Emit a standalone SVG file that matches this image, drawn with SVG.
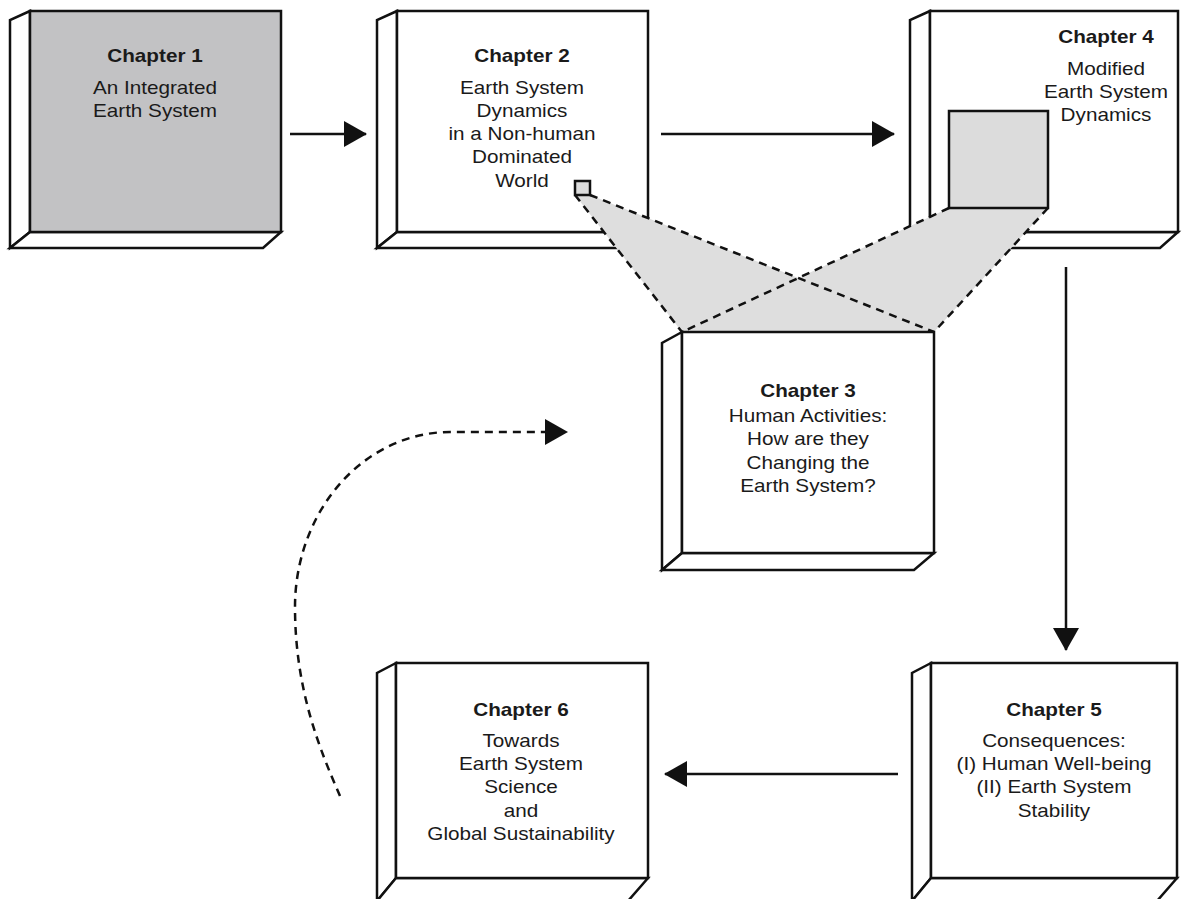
<svg xmlns="http://www.w3.org/2000/svg" width="1184" height="899" viewBox="0 0 1184 899">
  <style>
    .face{fill:#ffffff;stroke:#111;stroke-width:2.5;stroke-linejoin:miter}
    .face1{fill:#c2c2c4;stroke:#111;stroke-width:2.5}
    .t{font-family:"Liberation Sans",Arial,Helvetica,sans-serif;font-size:18px;fill:#1a1a1a;text-anchor:middle}
    .b{font-weight:bold}
    .shade{fill:#dedede;stroke:none}
    .dash{fill:none;stroke:#111;stroke-width:2.5;stroke-dasharray:8 6}
    .conn{fill:none;stroke:#111;stroke-width:2.5}
    .sq{fill:#dcdcdc;stroke:#111;stroke-width:2.5}
  </style>
  <defs>
    <marker id="ah" viewBox="0 0 23 26" refX="22" refY="13" markerWidth="23" markerHeight="26" markerUnits="userSpaceOnUse" orient="auto">
      <path d="M0,0 L23,13 L0,26 Z" fill="#111"/>
    </marker>
  </defs>
  <rect width="1184" height="899" fill="#ffffff"/>

  <g id="chapter1">
    <polygon class="face" points="30,11 10,20 10,248 30,232"/>
    <polygon class="face" points="30,232 10,248 263,248 281,232"/>
    <rect class="face1" x="30" y="11" width="251" height="221"/>
    <g transform="translate(155,0) scale(1.15,1)">
      <text class="t b" x="0" y="62">Chapter 1</text>
      <text class="t" x="0" y="94">An Integrated</text>
      <text class="t" x="0" y="117">Earth System</text>
    </g>
  </g>

  <g id="chapter2">
    <polygon class="face" points="397,11 377,20 377,248 397,232"/>
    <polygon class="face" points="397,232 377,248 630,248 648,232"/>
    <rect class="face" x="397" y="11" width="251" height="221"/>
    <g transform="translate(522,0) scale(1.15,1)">
      <text class="t b" x="0" y="62">Chapter 2</text>
      <text class="t" x="0" y="94">Earth System</text>
      <text class="t" x="0" y="117">Dynamics</text>
      <text class="t" x="0" y="140">in a Non-human</text>
      <text class="t" x="0" y="163">Dominated</text>
      <text class="t" x="0" y="187">World</text>
    </g>
  </g>

  <g id="chapter4">
    <polygon class="face" points="930,11 910,20 910,248 930,232"/>
    <polygon class="face" points="930,232 910,248 1160,248 1178,232"/>
    <rect class="face" x="930" y="11" width="248" height="221"/>
    <g transform="translate(1106,0) scale(1.15,1)">
      <text class="t b" x="0" y="43">Chapter 4</text>
      <text class="t" x="0" y="75">Modified</text>
      <text class="t" x="0" y="98">Earth System</text>
      <text class="t" x="0" y="121">Dynamics</text>
    </g>
  </g>

  <g id="zoom-projection">
    <polygon class="shade" points="575,195 590,195 934,332 682,332"/>
    <polygon class="shade" points="949,208 1048,208 934,332 682,332"/>
    <rect class="sq" x="949" y="111" width="99" height="97"/>
    <rect class="sq" x="575" y="181" width="15" height="14"/>
    <line class="dash" x1="575" y1="195" x2="682" y2="332"/>
    <line class="dash" x1="590" y1="195" x2="934" y2="332"/>
    <line class="dash" x1="949" y1="208" x2="682" y2="332"/>
    <line class="dash" x1="1048" y1="208" x2="934" y2="332"/>
  </g>

  <g id="chapter3">
    <polygon class="face" points="682,332 662,343 662,570 682,553"/>
    <polygon class="face" points="682,553 662,570 914,570 934,553"/>
    <rect class="face" x="682" y="332" width="252" height="221"/>
    <g transform="translate(808,0) scale(1.15,1)">
      <text class="t b" x="0" y="397">Chapter 3</text>
      <text class="t" x="0" y="422">Human Activities:</text>
      <text class="t" x="0" y="445">How are they</text>
      <text class="t" x="0" y="469">Changing the</text>
      <text class="t" x="0" y="492">Earth System?</text>
    </g>
  </g>

  <g id="chapter6">
    <polygon class="face" points="396,663 377,673 377,901 396,878"/>
    <polygon class="face" points="396,878 377,901 628,901 648,878"/>
    <rect class="face" x="396" y="663" width="252" height="215"/>
    <g transform="translate(521,0) scale(1.15,1)">
      <text class="t b" x="0" y="716">Chapter 6</text>
      <text class="t" x="0" y="747">Towards</text>
      <text class="t" x="0" y="770">Earth System</text>
      <text class="t" x="0" y="793">Science</text>
      <text class="t" x="0" y="817">and</text>
      <text class="t" x="0" y="840">Global Sustainability</text>
    </g>
  </g>

  <g id="chapter5">
    <polygon class="face" points="931,663 912,673 912,901 931,878"/>
    <polygon class="face" points="931,878 912,901 1157,901 1177,878"/>
    <rect class="face" x="931" y="663" width="246" height="215"/>
    <g transform="translate(1054,0) scale(1.15,1)">
      <text class="t b" x="0" y="716">Chapter 5</text>
      <text class="t" x="0" y="747">Consequences:</text>
      <text class="t" x="0" y="770">(I) Human Well-being</text>
      <text class="t" x="0" y="793">(II) Earth System</text>
      <text class="t" x="0" y="817">Stability</text>
    </g>
  </g>

  <g id="connectors">
    <line class="conn" x1="290" y1="134" x2="366" y2="134" marker-end="url(#ah)"/>
    <line class="conn" x1="661" y1="134" x2="894" y2="134" marker-end="url(#ah)"/>
    <line class="conn" x1="1066" y1="267" x2="1066" y2="650" marker-end="url(#ah)"/>
    <line class="conn" x1="898" y1="774" x2="665" y2="774" marker-end="url(#ah)"/>
    <path class="dash" d="M340,796 C320,750 295,690 295,607 A155,175 0 0 1 450,432 L567,432" marker-end="url(#ah)"/>
  </g>
</svg>
